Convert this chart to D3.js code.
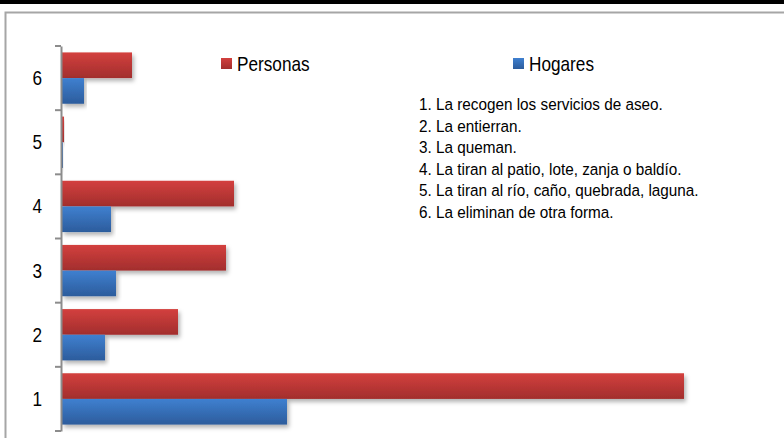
<!DOCTYPE html>
<html>
<head>
<meta charset="utf-8">
<script src="https://cdn.jsdelivr.net/npm/d3@7"></script>
<style>
  body { margin: 0; background: #fff; }
  svg { display: block; font-family: "Liberation Sans Narrow", "Arial Narrow", "Liberation Sans", Arial, sans-serif; }
</style>
</head>
<body>
<div id="chart"></div>
<script>
// disposición de basuras: personas y hogares
var categories = ["1", "2", "3", "4", "5", "6"];
var series = ["Personas", "Hogares"];
var personas = [622, 116, 164, 172, 2, 70];
var hogares = [225, 43, 54, 49, 1, 22];
var notes = [
  "1. La recogen los servicios de aseo.",
  "2. La entierran.",
  "3. La queman.",
  "4. La tiran al patio, lote, zanja o baldío.",
  "5. La tiran al río, caño, quebrada, laguna.",
  "6. La eliminan de otra forma."
];

var width = 784, height = 438;
var narrow = 0.86; // no narrow font installed, squeeze text instead

var svg = d3.select("#chart").append("svg")
    .attr("width", width)
    .attr("height", height);

var defs = svg.append("defs");

function grad(id, top, bottom) {
  var g = defs.append("linearGradient")
      .attr("id", id)
      .attr("x1", 0).attr("y1", 0).attr("x2", 0).attr("y2", 1);
  g.append("stop").attr("offset", "0%").attr("stop-color", top);
  g.append("stop").attr("offset", "100%").attr("stop-color", bottom);
}
grad("g-personas", "#d3403e", "#a22e2d");
grad("g-hogares", "#3f80d0", "#2c5c9c");

var shadow = defs.append("filter")
    .attr("id", "shadow")
    .attr("x", "-5%").attr("y", "-20%")
    .attr("width", "115%").attr("height", "160%");
shadow.append("feDropShadow")
    .attr("dx", 2).attr("dy", 3)
    .attr("stdDeviation", 2)
    .attr("flood-color", "#000")
    .attr("flood-opacity", 0.3);

// top black strip and frame
svg.append("rect")
    .attr("x", 0).attr("y", 0)
    .attr("width", width).attr("height", 4)
    .attr("fill", "#000");

svg.append("path")
    .attr("d", "M5.5," + (height + 5) + "V12.5H" + (width + 5))
    .attr("fill", "none")
    .attr("stroke", "#a6a6a6")
    .attr("stroke-width", 2);

var data = categories.map(function(c, i) {
  return {cat: c, values: [personas[i], hogares[i]]};
});

var x = d3.scaleLinear()
    .domain([0, 700])
    .range([62, 762]);

var y0 = d3.scaleBand()
    .domain(categories.slice().reverse())
    .range([46, 431]);

var y1 = d3.scaleBand()
    .domain(series)
    .range([0, y0.bandwidth()])
    .paddingOuter(0.25);

var color = d3.scaleOrdinal()
    .domain(series)
    .range(["url(#g-personas)", "url(#g-hogares)"]);

var groups = svg.append("g").selectAll("g")
    .data(data)
  .enter().append("g")
    .attr("transform", function(d) { return "translate(0," + y0(d.cat) + ")"; });

groups.selectAll("rect")
    .data(function(d) { return series.map(function(s, j) { return {key: s, value: d.values[j]}; }); })
  .enter().append("rect")
    .attr("x", x(0))
    .attr("y", function(d) { return y1(d.key); })
    .attr("width", function(d) { return x(d.value) - x(0); })
    .attr("height", y1.bandwidth())
    .attr("fill", function(d) { return color(d.key); })
    .attr("filter", "url(#shadow)");

// category axis
var yAxis = d3.axisLeft(y0)
    .tickSize(0)
    .tickPadding(0);

var ax = svg.append("g")
    .attr("transform", "translate(61,0)")
    .call(yAxis);

ax.select(".domain")
    .attr("stroke", "#8c8c8c")
    .attr("stroke-width", 2);

ax.selectAll(".tick text")
    .attr("x", 0)
    .attr("transform", "translate(-19,0) scale(" + narrow + ",1)")
    .attr("font-size", 20)
    .attr("fill", "#000")
    .attr("dy", "0.35em");

var bounds = y0.domain().map(function(c) { return y0(c); }).concat([y0.range()[1]]);
ax.selectAll(".bound")
    .data(bounds)
  .enter().append("line")
    .attr("class", "bound")
    .attr("x1", -6).attr("x2", 0)
    .attr("y1", function(d) { return d; })
    .attr("y2", function(d) { return d; })
    .attr("stroke", "#8c8c8c")
    .attr("stroke-width", 2);

// legend
var legendX = d3.scaleOrdinal().domain(series).range([221, 513]);

var legend = svg.append("g").selectAll("g")
    .data(series)
  .enter().append("g")
    .attr("transform", function(d) { return "translate(" + legendX(d) + ",58)"; });

legend.append("rect")
    .attr("width", 11).attr("height", 11)
    .attr("fill", function(d) { return color(d); });

legend.append("text")
    .attr("transform", "translate(16,13) scale(" + narrow + ",1)")
    .attr("font-size", 20)
    .attr("fill", "#000")
    .text(function(d) { return d; });

// category notes
svg.append("g").selectAll("text")
    .data(notes)
  .enter().append("text")
    .attr("transform", function(d, i) { return "translate(419," + (110 + i * 21.6) + ") scale(0.9,1)"; })
    .attr("font-size", 17)
    .attr("fill", "#000")
    .text(function(d) { return d; });
</script>
</body>
</html>
